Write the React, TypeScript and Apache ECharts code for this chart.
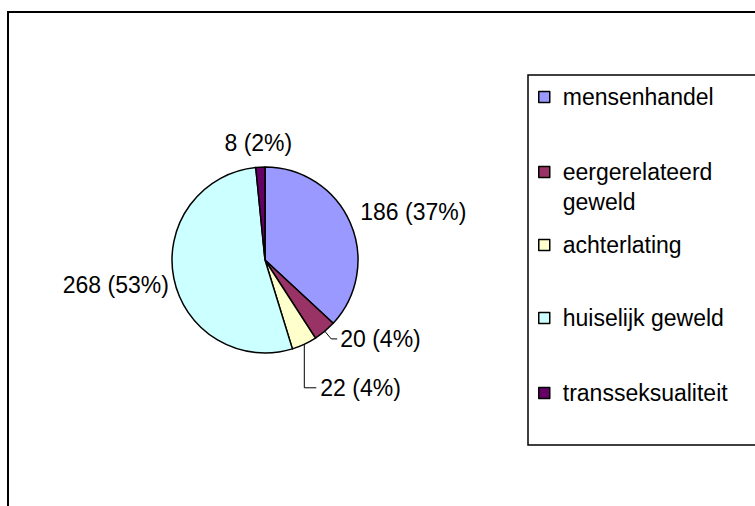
import React, { useEffect, useRef } from "react";
import * as echarts from "echarts";

const categories = ["mensenhandel", "eergerelateerd geweld", "achterlating", "huiselijk geweld", "transseksualiteit"];
const values = [186, 20, 22, 268, 8];
const legendLabels = ["mensenhandel", "eergerelateerd\ngeweld", "achterlating", "huiselijk geweld", "transseksualiteit"];

const colors = ["#9999FF", "#993366", "#FFFFCC", "#CCFFFF", "#660066"];
const legendCenters = [97, 172, 245, 318, 393];
const labelShiftX = [5, 0, 0, 0, 3];
const labelShiftY = [-11, 0, 0, 7, -24];
const FONT = "'Liberation Sans', Arial, sans-serif";
const FS = 23;
const LH = 30;

export default function App() {
  const ref = useRef<HTMLDivElement>(null);
  useEffect(() => {
    if (!ref.current) return;
    const chart = echarts.init(ref.current, null, { renderer: "svg" });

    const legends = categories.map((c, i) => {
      const lines = legendLabels[i].split("\n").length;
      // extra blank lines on top so the first text line sits beside the icon
      const txt = " \n".repeat(lines - 1) + legendLabels[i];
      return {
        show: true,
        selectedMode: false,
        data: [c],
        orient: "vertical",
        left: 538,
        top: legendCenters[i] - (LH * lines - LH / 2),
        padding: 0,
        icon: "rect",
        itemWidth: 11,
        itemHeight: 11,
        itemStyle: { borderColor: "#000", borderWidth: 1.5 },
        formatter: () => txt,
        textStyle: {
          fontFamily: FONT,
          fontSize: FS,
          lineHeight: LH,
          color: "#000",
          padding: [0, 0, 0, 8],
        },
      };
    });

    const option: any = {
      animation: false,
      backgroundColor: "#fff",
      graphic: [
        {
          type: "rect",
          shape: { x: 8, y: 12, width: 900, height: 700 },
          style: { fill: "none", stroke: "#000", lineWidth: 2 },
          silent: true,
        },
        {
          type: "rect",
          shape: { x: 528, y: 75, width: 400, height: 370 },
          style: { fill: "none", stroke: "#000", lineWidth: 1.5 },
          silent: true,
        },
      ],
      legend: legends,
      series: [
        {
          type: "pie",
          center: [265, 260],
          radius: 93,
          startAngle: 90,
          clockwise: true,
          avoidLabelOverlap: false,
          percentPrecision: 0,
          itemStyle: { borderColor: "#000", borderWidth: 1.5 },
          emphasis: { disabled: true },
          label: {
            show: true,
            position: "outside",
            formatter: "{c} ({d}%)",
            fontFamily: FONT,
            fontSize: FS,
            color: "#000",
            distanceToLabelLine: 5,
          },
          labelLine: { show: false, length: 0, length2: 0, lineStyle: { color: "#000", width: 1 } },
          labelLayout: (params: any) => {
            const i = params.dataIndex;
            const r = params.labelRect;
            const pts = params.labelLinePoints;
            if (i === 1) return {};
            if (i === 2 && pts) {
              const p0 = pts[0];
              const p2 = pts[pts.length - 1];
              return {
                x: p0[0] + 16,
                y: p2[1],
                labelLinePoints: [
                  [p0[0], p0[1]],
                  [p0[0], p2[1]],
                  [p0[0] + 12, p2[1]],
                ],
              };
            }
            const ax = params.align === "right" ? r.x + r.width : params.align === "center" ? r.x + r.width / 2 : r.x;
            const ay = r.y + r.height / 2;
            const res: any = { x: ax + labelShiftX[i], y: ay + labelShiftY[i] };
            if (i === 4) res.align = "center";
            return res;
          },
          data: categories.map((c, i) => {
            const d: any = { name: c, value: values[i], itemStyle: { color: colors[i] } };
            if (i === 1) {
              d.labelLine = { show: true, length: 10, length2: 6 };
              d.label = { distanceToLabelLine: 3 };
            }
            if (i === 2) {
              d.labelLine = { show: true, length: 48, length2: 0 };
            }
            return d;
          }),
        },
      ],
    };
    chart.setOption(option);
    return () => chart.dispose();
  }, []);
  return (
    <div
      ref={ref}
      style={{ position: "absolute", left: 0, top: 0, width: 755, height: 506, background: "#fff" }}
    />
  );
}
